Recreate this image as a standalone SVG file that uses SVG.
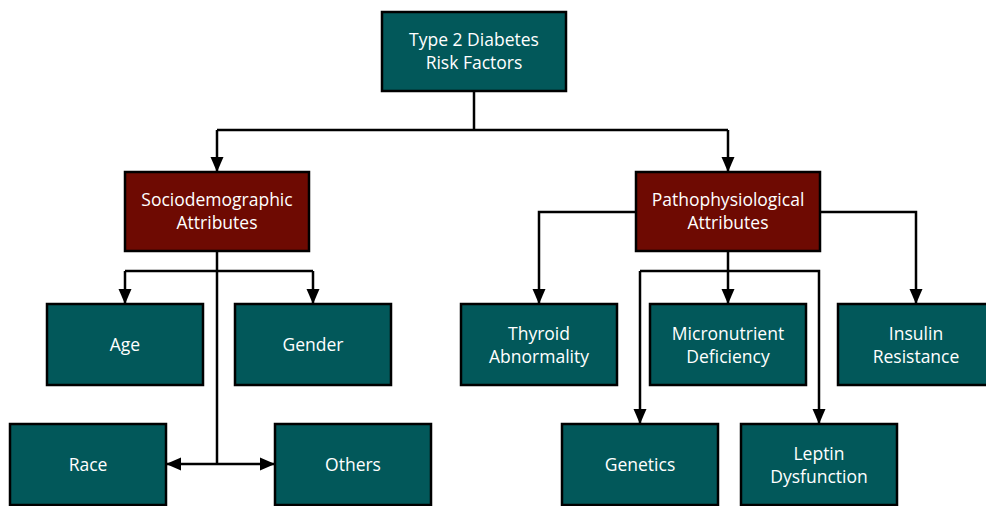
<svg xmlns="http://www.w3.org/2000/svg" width="986" height="506" viewBox="0 0 986 506">
<defs>
<style>
.t{fill:#02585a;stroke:#000;stroke-width:2.5}
.r{fill:#6e0a02;stroke:#000;stroke-width:2.5}
text{font-family:"Open Sans","Noto Sans",sans-serif;font-size:17.5px;fill:#fff;text-anchor:middle}
.c{fill:none;stroke:#000;stroke-width:2.5}
</style>
<marker id="a" markerUnits="userSpaceOnUse" markerWidth="16" markerHeight="16" viewBox="0 0 16 16" refX="15" refY="8" orient="auto">
<path d="M0,1.5 L15,8 L0,14.5 Z" fill="#000"/>
</marker>
</defs>
<rect width="986" height="506" fill="#fff"/>
<g id="connectors">
<path class="c" d="M474,91 V130"/>
<path class="c" d="M217,130 H728"/>
<path class="c" d="M217,130 V172" marker-end="url(#a)"/>
<path class="c" d="M728,130 V172" marker-end="url(#a)"/>
<path class="c" d="M217,251 V464"/>
<path class="c" d="M125,271 H313"/>
<path class="c" d="M125,271 V304" marker-end="url(#a)"/>
<path class="c" d="M313,271 V304" marker-end="url(#a)"/>
<path class="c" d="M217,464 H166" marker-end="url(#a)"/>
<path class="c" d="M217,464 H275" marker-end="url(#a)"/>
<path class="c" d="M636,212 H539 V304" marker-end="url(#a)"/>
<path class="c" d="M820,212 H916 V304" marker-end="url(#a)"/>
<path class="c" d="M728,251 V304" marker-end="url(#a)"/>
<path class="c" d="M640,271 H819 V424" marker-end="url(#a)"/>
<path class="c" d="M640,271 V424" marker-end="url(#a)"/>
</g>
<g id="root"><rect class="t" x="382" y="12" width="184" height="79"/><text x="474" y="46">Type 2 Diabetes</text><text x="474" y="69">Risk Factors</text></g>
<g id="socio"><rect class="r" x="125" y="172" width="184" height="79"/><text x="217" y="206">Sociodemographic</text><text x="217" y="229">Attributes</text></g>
<g id="patho"><rect class="r" x="636" y="172" width="184" height="79"/><text x="728" y="206">Pathophysiological</text><text x="728" y="229">Attributes</text></g>
<g id="age"><rect class="t" x="47" y="304" width="156" height="81"/><text x="125" y="351">Age</text></g>
<g id="gender"><rect class="t" x="235" y="304" width="156" height="81"/><text x="313" y="351">Gender</text></g>
<g id="race"><rect class="t" x="10" y="424" width="156" height="81"/><text x="88" y="471">Race</text></g>
<g id="others"><rect class="t" x="275" y="424" width="156" height="81"/><text x="353" y="471">Others</text></g>
<g id="thyroid"><rect class="t" x="461" y="304" width="156" height="81"/><text x="539" y="340">Thyroid</text><text x="539" y="363">Abnormality</text></g>
<g id="micro"><rect class="t" x="650" y="304" width="156" height="81"/><text x="728" y="340">Micronutrient</text><text x="728" y="363">Deficiency</text></g>
<g id="insulin"><rect class="t" x="838" y="304" width="156" height="81"/><text x="916" y="340">Insulin</text><text x="916" y="363">Resistance</text></g>
<g id="genetics"><rect class="t" x="562" y="424" width="156" height="81"/><text x="640" y="471">Genetics</text></g>
<g id="leptin"><rect class="t" x="741" y="424" width="156" height="81"/><text x="819" y="460">Leptin</text><text x="819" y="483">Dysfunction</text></g>
</svg>
